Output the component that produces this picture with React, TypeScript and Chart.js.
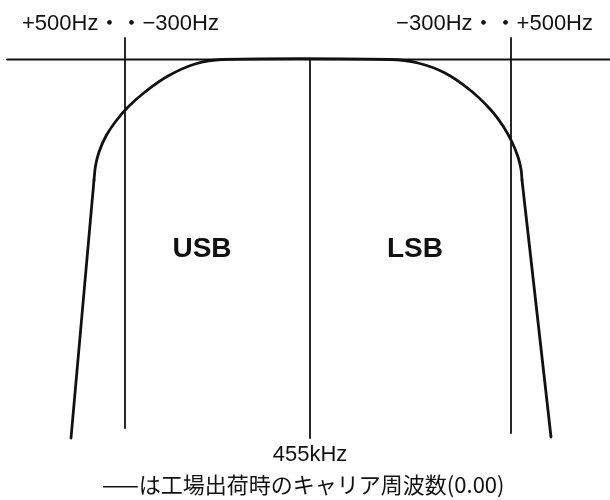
import React, { useEffect, useRef } from "react";
import { Chart, registerables } from "chart.js";

Chart.register(...registerables);

// Reference (0 dB) line across the top of the passband
const refLineX = [7, 610];
const refLineY = [59.5, 59.5];

// Carrier frequency markers: USB carrier, 455 kHz centre, LSB carrier
const markerX = [125, 310, 511];
const markerTop = [38, 59.5, 38];
const markerBottom = [428, 438, 433];

// Filter skirts (straight sides)
const leftSkirtX = [71, 94];
const leftSkirtY = [438, 180];
const rightSkirtX = [522, 551];
const rightSkirtY = [180, 437];

// Filter shoulder / passband curve
const shoulderX = [94, 95.5, 99, 106, 116, 128, 145, 168, 195, 222, 390, 418, 445, 470, 490, 503, 512, 518, 521, 522];
const shoulderY = [180, 166, 152, 136, 121, 107, 92, 76, 64, 59.5, 59.5, 63, 73, 90, 109, 126, 142, 157, 169, 180];

// Texts
const topLeftLabel = "+500Hz・・−300Hz";
const topRightLabel = "−300Hz・・+500Hz";
const bandLabels = ["USB", "LSB"];
const centreLabel = "455kHz";
const noteLabel = "——は工場出荷時のキャリア周波数(0.00)";

const pts = (xs: number[], ys: number[]) => xs.map((x, i) => ({ x, y: ys[i] }));

export default function App() {
  const ref = useRef<HTMLCanvasElement | null>(null);

  useEffect(() => {
    if (!ref.current) return;
    const ink = "#111111";

    const markerSets = markerX.map((x, i) => ({
      data: [
        { x, y: markerTop[i] },
        { x, y: markerBottom[i] },
      ],
      borderColor: ink,
      borderWidth: 1.8,
      tension: 0,
    }));

    const textPlugin = {
      id: "texts",
      afterDatasetsDraw(chart: any) {
        const ctx = chart.ctx;
        const xs = chart.scales.x;
        ctx.save();
        ctx.fillStyle = ink;
        ctx.textBaseline = "alphabetic";

        ctx.font = "22px 'Liberation Sans', 'Noto Sans CJK JP', sans-serif";
        ctx.textAlign = "left";
        ctx.fillText(topLeftLabel, 22, 30);
        ctx.textAlign = "right";
        ctx.fillText(topRightLabel, 593, 30);

        ctx.font = "bold 28px 'Liberation Sans', sans-serif";
        ctx.textAlign = "center";
        ctx.fillText(bandLabels[0], 202, 257);
        ctx.fillText(bandLabels[1], 415, 257);

        ctx.font = "22px 'Liberation Sans', sans-serif";
        ctx.textAlign = "center";
        ctx.fillText(centreLabel, xs.getPixelForValue(markerX[1]), 461);

        ctx.font = "22px 'Noto Sans CJK JP', sans-serif";
        ctx.textAlign = "left";
        ctx.fillText(noteLabel, 102, 493);
        ctx.restore();
      },
    };

    const chart = new Chart(ref.current, {
      type: "scatter",
      data: {
        datasets: [
          {
            data: pts(refLineX, refLineY),
            borderColor: ink,
            borderWidth: 2.2,
            tension: 0,
          },
          ...markerSets,
          {
            data: pts(leftSkirtX, leftSkirtY),
            borderColor: ink,
            borderWidth: 2.8,
            tension: 0,
          },
          {
            data: pts(rightSkirtX, rightSkirtY),
            borderColor: ink,
            borderWidth: 2.8,
            tension: 0,
          },
          {
            data: pts(shoulderX, shoulderY),
            borderColor: ink,
            borderWidth: 2.8,
            tension: 0.4,
          },
        ] as any,
      },
      options: {
        responsive: false,
        animation: false,
        showLine: true,
        layout: { padding: 0 },
        elements: { point: { radius: 0, hoverRadius: 0 }, line: { borderCapStyle: "round", borderJoinStyle: "round" } },
        plugins: { legend: { display: false }, tooltip: { enabled: false } },
        events: [],
        scales: {
          x: { type: "linear", min: 0, max: 610, display: false },
          y: { type: "linear", min: 0, max: 500, reverse: true, display: false },
        },
      } as any,
      plugins: [textPlugin],
    });
    return () => chart.destroy();
  }, []);

  return (
    <div style={{ position: "absolute", left: 0, top: 0, width: 610, height: 500, background: "#fff" }}>
      <canvas ref={ref} width={610} height={500} />
    </div>
  );
}
